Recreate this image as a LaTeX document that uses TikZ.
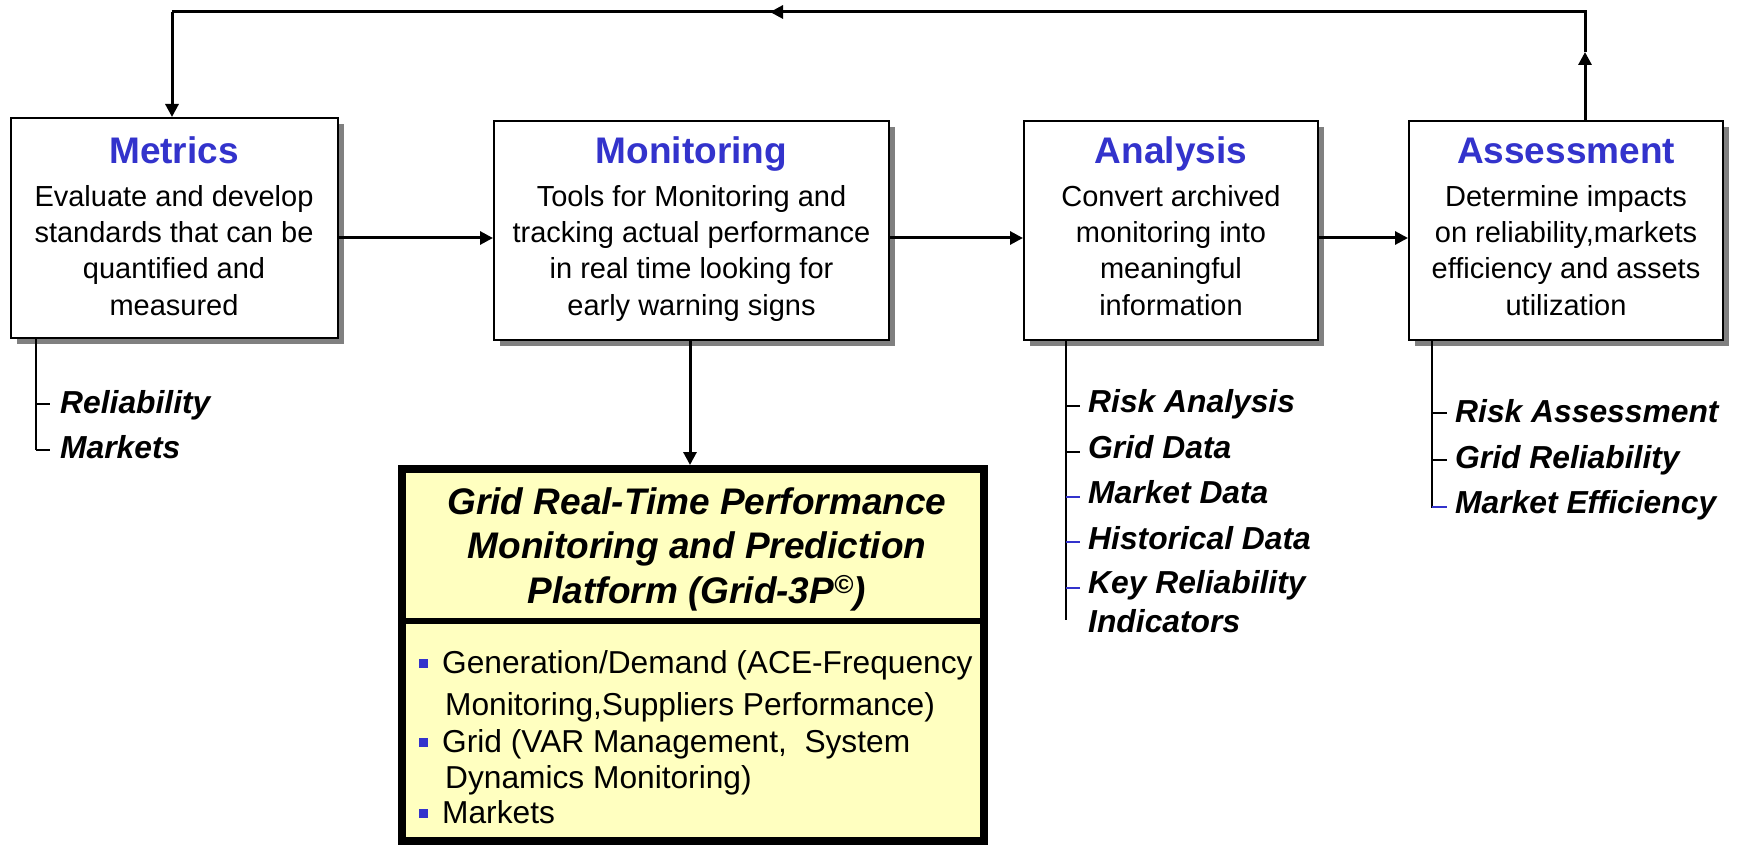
\documentclass[tikz,border=0pt]{standalone}
\usepackage{fontspec}
\setmainfont{Liberation Sans}
\usetikzlibrary{arrows.meta,shadows}
\definecolor{ttlblue}{RGB}{51,51,204}
\definecolor{paleyel}{RGB}{255,255,192}
\definecolor{shadegray}{RGB}{128,128,128}
\begin{document}
\begin{tikzpicture}[x=1pt,y=-1pt,
 box/.style={draw=black,line width=2pt,fill=white,inner sep=0pt,
   drop shadow={shadow xshift=6pt,shadow yshift=-6pt,fill=shadegray,opacity=1}},
 ttl/.style={font=\fontsize{37}{44}\selectfont\bfseries,text=ttlblue,inner sep=0pt,anchor=base},
 bodytxt/.style={font=\fontsize{29}{36}\selectfont,inner sep=0pt,anchor=base},
 subtxt/.style={font=\fontsize{31.8}{38}\selectfont\bfseries\itshape,inner sep=0pt,anchor=base west},
 gtitle/.style={font=\fontsize{37}{44}\selectfont\bfseries\itshape,inner sep=0pt,anchor=base},
 itemtxt/.style={font=\fontsize{31.7}{38}\selectfont,inner sep=0pt,anchor=base west},
 flow/.style={line width=3pt,-{Triangle[length=13pt,width=13pt]}},
 loopline/.style={line width=3pt,line join=miter},
 stem/.style={line width=2pt},
 tickb/.style={line width=1.2pt},
 tickc/.style={line width=1.2pt,draw=ttlblue},
 bul/.style={fill=ttlblue,minimum size=9pt,inner sep=0pt},
 ybox/.style={draw=black,line width=8pt,fill=paleyel,inner sep=0pt}
]
\useasboundingbox (0,0) rectangle (1738,845);

% main boxes
\node[box,minimum width=327pt,minimum height=220pt] (met) at (174.5,228) {};
\node[box,minimum width=395pt,minimum height=219pt] (mon) at (691.5,230.5) {};
\node[box,minimum width=294pt,minimum height=219.5pt] (ana) at (1171,230.3) {};
\node[box,minimum width=314pt,minimum height=219.5pt] (asm) at (1566,230.5) {};

% titles
\node[ttl] (metT) at (174,164) {Metrics};
\node[ttl] (monT) at (691.5,164) {Monitoring};
\node[ttl] (anaT) at (1171,164) {Analysis};
\node[ttl] (asmT) at (1566,164) {Assessment};

% body texts
\foreach \t [count=\i] in {Evaluate and develop,standards that can be,quantified and,measured}
  \node[bodytxt] (metB\i) at (174,207+36*\i-36) {\t};
\foreach \t [count=\i] in {Tools for Monitoring and,tracking actual performance,in real time looking for,early warning signs}
  \node[bodytxt] (monB\i) at (691.5,207+36*\i-36) {\t};
\foreach \t [count=\i] in {Convert archived,monitoring into,meaningful,information}
  \node[bodytxt] (anaB\i) at (1171,207+36*\i-36) {\t};
\foreach \t [count=\i] in {Determine impacts,{on reliability,markets},efficiency and assets,utilization}
  \node[bodytxt] (asmB\i) at (1566,207+36*\i-36) {\t};

% yellow platform box
\node[ybox,minimum width=582pt,minimum height=372pt] (grid) at (693,655) {};
\coordinate (divy) at (0,621);
\draw[line width=6pt] (grid.west |- divy) -- (grid.east |- divy);
\node[gtitle] (g1) at (697,514) {Grid Real-Time Performance};
\node[gtitle] (g2) at (697,558) {Monitoring and Prediction};
\node[gtitle] (g3) at (697,603) {Platform (Grid-3P\textsuperscript{©})};

\node[bul] (b1) at (423.5,663) {};
\node[bul] (b2) at (423.5,742) {};
\node[bul] (b3) at (423.5,813) {};
\node[itemtxt] (i1a) at (442,673) {Generation/Demand (ACE-Frequency};
\node[itemtxt] (i1b) at (445,715) {Monitoring,Suppliers Performance)};
\node[itemtxt] (i2a) at (442,752) {Grid (VAR Management,~ System};
\node[itemtxt] (i2b) at (445,788) {Dynamics Monitoring)};
\node[itemtxt] (i3a) at (442,823) {Markets};

% flow arrows
\coordinate (fy) at (0,238);
\draw[flow] (met.east |- fy) -- (mon.west |- fy);
\draw[flow] (mon.east |- fy) -- (ana.west |- fy);
\draw[flow] (ana.east |- fy) -- (asm.west |- fy);
\coordinate (dx) at (690,0);
\draw[flow] (dx |- mon.south) -- (dx |- grid.north);

% feedback loop
\coordinate (tr) at (1585,12);
\coordinate (tl) at (172,12);
\coordinate (upm) at (1585,52);
\coordinate (lm) at (770,12);
\draw[flow] (tr |- asm.north) -- (upm);
\draw[loopline] (upm) -- (tr) -- (lm);
\draw[flow] (tr) -- (lm);
\draw[loopline] (lm) -- (tl);
\draw[flow] (tl) -- (tl |- met.north);

% Metrics sub-list
\coordinate (mv) at (36,450);
\draw[stem] (mv |- met.south) -- (mv);
\node[subtxt] (mr) at (60,413) {Reliability};
\node[subtxt] (mm) at (60,458) {Markets};
\draw[tickb] (36,404) -- (50,404);
\draw[tickb] (36,450) -- (50,450);

% Analysis sub-list
\coordinate (av) at (1066,620);
\draw[stem] (av |- ana.south) -- (av);
\node[subtxt] (a1) at (1088,412) {Risk Analysis};
\node[subtxt] (a2) at (1088,458) {Grid Data};
\node[subtxt] (a3) at (1088,503) {Market Data};
\node[subtxt] (a4) at (1088,549) {Historical Data};
\node[subtxt] (a5) at (1088,593) {Key Reliability};
\node[subtxt] (a6) at (1088,632) {Indicators};
\draw[tickb] (1066,406) -- (1080,406);
\draw[tickb] (1066,452) -- (1080,452);
\draw[tickc] (1066,497) -- (1080,497);
\draw[tickc] (1066,542) -- (1080,542);
\draw[tickc] (1066,588) -- (1080,588);

% Assessment sub-list
\coordinate (sv) at (1432,508);
\draw[stem] (sv |- asm.south) -- (sv);
\node[subtxt] (s1) at (1455,422) {Risk Assessment};
\node[subtxt] (s2) at (1455,468) {Grid Reliability};
\node[subtxt] (s3) at (1455,513) {Market Efficiency};
\draw[tickb] (1432,413) -- (1447,413);
\draw[tickb] (1432,460) -- (1447,460);
\draw[tickc] (1432,507) -- (1447,507);
\end{tikzpicture}
\end{document}
